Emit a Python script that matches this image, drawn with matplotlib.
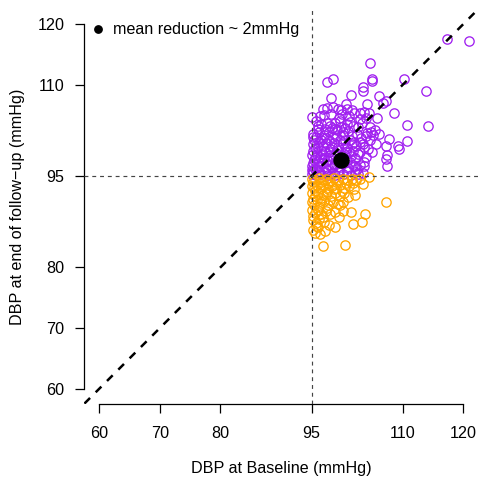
import numpy as np
import matplotlib
matplotlib.use("Agg")
import matplotlib.pyplot as plt
from matplotlib.lines import Line2D

plt.rcParams["font.family"] = ["Liberation Sans", "DejaVu Sans"]

# Diastolic blood pressure (mmHg): (baseline, end of follow-up)
# Patients whose follow-up DBP stayed at or above 95 mmHg
above_95 = [
    (117.3, 117.5), (120.9, 117.2), (104.6, 113.6), (97.5, 110.5), (98.6, 111.0),
    (104.9, 111.0), (104.9, 110.6), (110.2, 111.0), (113.8, 109.0), (103.4, 109.6),
    (103.4, 109.0), (98.2, 107.9), (101.5, 108.4), (106.1, 108.1), (107.2, 107.3),
    (106.8, 107.0), (104.2, 106.9), (100.6, 106.9), (108.5, 105.3), (110.7, 103.4),
    (114.2, 103.3), (105.7, 104.5), (95.1, 104.7), (107.7, 101.1), (110.7, 100.7),
    (109.2, 100.0), (109.4, 99.4), (107.3, 99.9), (107.4, 98.5), (107.2, 97.8),
    (107.4, 96.6), (103.7, 96.6), (105.6, 100.3), (106.1, 101.9), (104.1, 102.1),
    (96.8, 106.0), (97.6, 106.2), (98.5, 106.4), (99.3, 106.0), (100.0, 105.2),
    (100.9, 106.1), (102.0, 105.3), (102.9, 105.3), (103.6, 105.6), (104.5, 105.3),
    (97.0, 105.0), (99.5, 104.6), (101.2, 104.8),
    (95.7, 104.0), (96.1, 103.2), (96.6, 103.5), (97.6, 103.8), (98.8, 103.7),
    (99.7, 104.0), (100.8, 103.6), (101.8, 103.3), (102.6, 103.0), (103.3, 103.8),
    (104.7, 103.0), (105.4, 102.6),
    (95.3, 102.0), (95.8, 101.5), (96.3, 102.3), (97.1, 101.7), (97.9, 102.2),
    (98.5, 101.4), (99.2, 102.5), (100.2, 101.8), (101.0, 102.4), (101.7, 101.6),
    (102.5, 101.9), (103.2, 101.2), (103.9, 101.6), (104.6, 100.9), (105.1, 101.7),
    (95.2, 100.2), (95.6, 99.6), (96.2, 100.6), (96.9, 99.9), (97.4, 100.4),
    (98.0, 99.5), (98.7, 100.5), (99.4, 99.8), (100.1, 100.4), (100.9, 99.6),
    (101.6, 100.3), (102.3, 99.9), (103.0, 100.6), (103.7, 99.8), (104.3, 99.4),
    (95.4, 101.0), (97.8, 101.0), (100.5, 101.0), (102.9, 98.9),
    (95.1, 98.4), (95.5, 97.9), (95.9, 98.7), (96.4, 98.1), (96.9, 98.6),
    (97.5, 97.7), (98.1, 98.4), (98.6, 97.9), (99.1, 98.8), (99.8, 98.1),
    (100.3, 98.7), (100.9, 97.6), (101.5, 98.3), (102.2, 97.9), (102.7, 98.6),
    (95.3, 99.1), (96.6, 99.2), (97.9, 99.0), (99.2, 99.3), (100.7, 99.0),
    (101.9, 99.2),
    (95.0, 96.6), (95.2, 97.2), (95.6, 96.2), (95.9, 97.0), (96.3, 96.5),
    (96.8, 97.1), (97.3, 96.3), (97.9, 96.9), (98.4, 96.4), (99.0, 97.0),
    (99.6, 96.5), (100.3, 97.2), (101.0, 96.4), (101.8, 96.8), (102.5, 96.2),
    (103.0, 96.9),
    (95.0, 95.4), (95.3, 95.8), (95.7, 95.2), (96.1, 95.6), (96.6, 95.3),
    (97.2, 95.7), (97.7, 95.2), (98.3, 95.5), (98.9, 95.1), (99.5, 95.6),
    (100.2, 95.3), (100.8, 95.8), (101.5, 95.2), (102.1, 95.6), (102.6, 95.3),
    (103.4, 95.5),
    (95.1, 96.0), (95.4, 97.6), (95.8, 98.2), (96.0, 99.8), (96.5, 100.9),
    (95.2, 101.4), (96.8, 101.2), (97.2, 102.8), (98.1, 103.2), (98.9, 102.8),
    (99.8, 103.1), (100.5, 102.9), (104.0, 98.2), (105.0, 99.0), (104.8, 102.2),
    (103.6, 97.3),
    (96.4, 104.8), (98.2, 105.2), (99.9, 105.8), (101.6, 105.9), (102.9, 104.4),
    (103.9, 104.6), (101.4, 103.9), (100.1, 102.3), (98.3, 102.9), (96.0, 102.8),
    (97.4, 101.2), (99.0, 101.6), (101.3, 101.0), (102.0, 100.6), (103.4, 100.3),
    (99.6, 100.9), (97.2, 99.1), (98.4, 99.8), (100.5, 99.7), (101.2, 98.9),
    (96.1, 97.4), (97.0, 98.0), (98.8, 98.5), (100.0, 97.5), (101.4, 97.3),
    (102.2, 96.6), (97.5, 96.0), (99.3, 95.9), (96.3, 95.9), (98.7, 96.9),
]

# Patients whose follow-up DBP fell below 95 mmHg
below_95 = [
    (107.3, 90.8), (103.8, 88.8), (103.3, 87.4), (101.8, 87.1), (100.5, 83.7),
    (96.8, 83.5), (98.8, 86.6), (97.2, 86.0), (95.6, 85.7), (102.1, 91.9),
    (104.5, 94.8), (103.5, 93.7), (101.5, 89.1), (100.2, 89.2),
    (95.1, 94.6), (95.6, 94.3), (96.2, 94.7), (96.8, 94.4), (97.4, 94.6),
    (98.1, 94.2), (98.7, 94.7), (99.4, 94.4), (100.1, 94.6), (100.8, 94.3),
    (101.6, 94.6), (102.3, 94.4), (103.0, 94.6),
    (95.0, 93.4), (95.4, 93.0), (95.9, 93.6), (96.5, 93.1), (97.1, 93.5),
    (97.7, 92.9), (98.4, 93.4), (99.0, 93.0), (99.7, 93.5), (100.4, 93.1),
    (101.2, 93.4), (102.0, 92.9),
    (95.1, 92.2), (95.6, 91.7), (96.1, 92.3), (96.8, 91.9), (97.5, 92.4),
    (98.2, 91.8), (98.9, 92.2), (99.6, 91.7), (100.4, 92.3), (101.0, 91.5),
    (95.0, 90.8), (95.4, 90.3), (95.9, 91.0), (96.4, 90.5), (97.0, 90.9),
    (97.7, 90.3), (98.5, 90.8), (99.3, 90.4), (100.1, 90.7),
    (95.1, 89.4), (95.5, 88.9), (96.0, 89.5), (96.6, 88.8), (97.3, 89.3),
    (98.0, 88.7), (98.9, 89.1),
    (95.2, 87.8), (95.7, 87.3), (96.3, 87.9), (97.0, 87.4), (97.8, 87.0),
    (96.0, 86.6), (95.3, 86.2), (96.4, 85.4),
    (95.3, 94.0), (96.5, 94.1), (97.7, 93.9), (99.0, 94.0), (100.6, 93.8),
    (101.8, 93.9), (95.6, 92.6), (97.3, 92.0), (98.7, 92.9), (100.0, 92.5),
    (95.3, 91.3), (96.6, 91.4), (98.1, 91.0), (99.6, 90.2), (96.3, 89.9),
    (97.6, 89.7), (95.2, 88.4), (96.8, 88.2), (99.5, 88.3), (95.7, 86.8),
]

mean_baseline = 99.8
mean_followup = 97.7
threshold = 95
ticks = [60, 70, 80, 95, 110, 120]
legend_label = "mean reduction ~ 2mmHg"

hi = np.array(above_95)
lo = np.array(below_95)

W, H = 480, 482
fig = plt.figure(figsize=(W / 100, H / 100), dpi=100)
left, right, top, bottom = 84.4, 478.0, 9.4, 403.6
ax = fig.add_axes([left / W, 1 - bottom / H, (right - left) / W, (bottom - top) / H])

lo_lim = ticks[0] - 0.04 * (ticks[-1] - ticks[0])
hi_lim = ticks[-1] + 0.04 * (ticks[-1] - ticks[0])
ax.set_xlim(lo_lim, hi_lim)
ax.set_ylim(lo_lim, hi_lim)

marker_kw = dict(marker="o", linestyle="none", markerfacecolor="none",
                 markersize=6.7, markeredgewidth=0.95)
ax.plot(hi[:, 0], hi[:, 1], markeredgecolor="#A020F0", **marker_kw, zorder=2)
ax.plot(lo[:, 0], lo[:, 1], markeredgecolor="#FFA500", **marker_kw, zorder=2)

# identity line: no change between baseline and follow-up
ax.axline((ticks[0], ticks[0]), slope=1, color="black", lw=1.8,
          dashes=(3.2, 3.2), zorder=3)
ax.axhline(threshold, color="#444444", lw=0.85, dashes=(3.3, 3.3), zorder=3)
ax.axvline(threshold, color="#444444", lw=0.85, dashes=(3.3, 3.3), zorder=3)

ax.plot([mean_baseline], [mean_followup], marker="o", color="black",
        markersize=10.8, linestyle="none", zorder=4)

for side in ("top", "right"):
    ax.spines[side].set_visible(False)
for side in ("left", "bottom"):
    ax.spines[side].set_bounds(ticks[0], ticks[-1])
    ax.spines[side].set_linewidth(0.9)

ax.set_xticks(ticks)
ax.set_yticks(ticks)
ax.tick_params(axis="both", direction="out", length=6.5, width=0.9,
               labelsize=11.6, colors="black")
ax.tick_params(axis="x", pad=9.5)
ax.tick_params(axis="y", pad=8.0)

ax.set_xlabel("DBP at Baseline (mmHg)", fontsize=11.6)
ax.set_ylabel("DBP at end of follow\u2212up (mmHg)", fontsize=11.6)
ax.xaxis.label.set_va("center")
ax.yaxis.label.set_va("center")
ax.xaxis.set_label_coords((281 - left) / (right - left), (bottom - 468) / (bottom - top))
ax.yaxis.set_label_coords((17.5 - left) / (right - left), 0.5)

handle = Line2D([0], [0], marker="o", linestyle="none", color="black", markersize=5.3)
ax.legend([handle], [legend_label], loc="upper left",
          bbox_to_anchor=(-2.5 / (right - left), 1 - 1.0 / (bottom - top)),
          frameon=False, fontsize=11.6, borderaxespad=0, borderpad=0.75,
          handlelength=0.5, handletextpad=0.66)

fig.savefig("out.png", dpi=100)
